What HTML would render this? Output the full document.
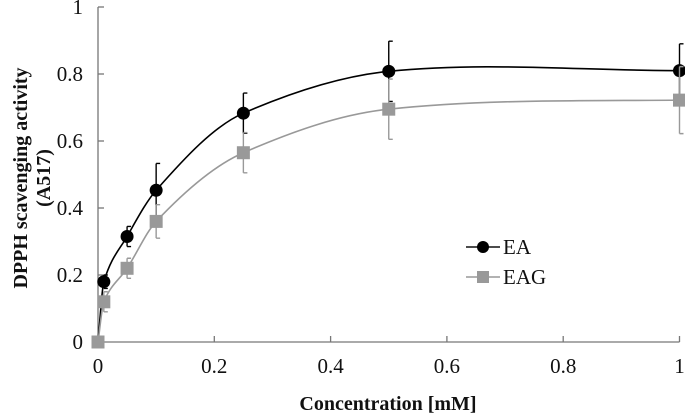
<!DOCTYPE html>
<html><head><meta charset="utf-8"><style>
body{margin:0;background:#fff}
svg text{font-family:"Liberation Serif",serif;fill:#111}
</style></head><body>
<svg id="chart" width="685" height="415" xmlns="http://www.w3.org/2000/svg">
<g id="axes"></g>
<g id="series"></g>
<text x="388" y="410" text-anchor="middle" font-size="20" font-weight="bold">Concentration [mM]</text>
<text transform="translate(27,178) rotate(-90)" text-anchor="middle" font-size="20" font-weight="bold">DPPH scavenging activity</text>
<text transform="translate(50,178) rotate(-90)" text-anchor="middle" font-size="20" font-weight="bold">(A517)</text>
<g>
<line x1="466" y1="247" x2="500" y2="247" stroke="#111" stroke-width="1.5"/>
<circle cx="483" cy="247" r="6" fill="#000"/>
<text x="503" y="254" font-size="21">EA</text>
<line x1="466" y1="277" x2="500" y2="277" stroke="#999" stroke-width="1.5"/>
<rect x="477" y="271" width="12" height="12" fill="#999"/>
<text x="503" y="284" font-size="21">EAG</text>
</g>
</svg>
<script>
const xValues=[0,0.01,0.05,0.1,0.25,0.5,1];
const eaValues=[0,0.18,0.315,0.453,0.683,0.808,0.81];
const eaErrors=[0,0.02,0.03,0.08,0.06,0.09,0.08];
const eagValues=[0,0.12,0.22,0.36,0.565,0.695,0.722];
const eagErrors=[0,0.03,0.03,0.05,0.06,0.09,0.1];
const xTicks=[0,0.2,0.4,0.6,0.8,1];
const xTickLabels=["0","0.2","0.4","0.6","0.8","1"];
const yTicks=[0,0.2,0.4,0.6,0.8,1];
const yTickLabels=["0","0.2","0.4","0.6","0.8","1"];
const NS="http://www.w3.org/2000/svg";
const X=v=>98+v*581.5, Y=v=>342-v*335;
function mk(tag,attrs,parent){const e=document.createElementNS(NS,tag);for(const k in attrs)e.setAttribute(k,attrs[k]);parent.appendChild(e);return e;}
const ax=document.getElementById('axes');
let l=mk('line',{x1:X(0),y1:Y(0),x2:X(1),y2:Y(0),stroke:'#777','stroke-width':1.3},ax);


l=mk('line',{x1:X(0),y1:Y(0),x2:X(0),y2:Y(1),stroke:'#777','stroke-width':1.3},ax);


xTicks.forEach((t,i)=>{
 const tk=mk('line',{x1:X(t),y1:Y(0),x2:X(t),y2:Y(0)-6,stroke:'#777','stroke-width':1.3},ax);
 
 
 const tx=mk('text',{x:X(t),y:373,'text-anchor':'middle','font-size':21},ax);tx.textContent=xTickLabels[i];
 
 
});
yTicks.forEach((t,i)=>{
 const tk=mk('line',{x1:X(0),y1:Y(t),x2:X(0)+6,y2:Y(t),stroke:'#777','stroke-width':1.3},ax);
 
 
 const tx=mk('text',{x:83,y:Y(t)+7,'text-anchor':'end','font-size':21},ax);tx.textContent=yTickLabels[i];
 
 
});
function smooth(xs,ys){
 const n=xs.length,d=[],m=[];
 for(let i=0;i<n-1;i++)d.push((ys[i+1]-ys[i])/(xs[i+1]-xs[i]));
 m[0]=d[0];m[n-1]=d[n-2]*0.3;
 for(let i=1;i<n-1;i++){m[i]=(d[i-1]*d[i]<=0)?0:2/(1/d[i-1]+1/d[i]);}
 m[n-2]=Math.max(m[n-2],d[n-3]*0.35);
 let p=`M${X(xs[0])},${Y(ys[0])}`;
 for(let i=0;i<n-1;i++){const h=xs[i+1]-xs[i];
  p+=` C${X(xs[i]+h/3)},${Y(ys[i]+m[i]*h/3)} ${X(xs[i+1]-h/3)},${Y(ys[i+1]-m[i+1]*h/3)} ${X(xs[i+1])},${Y(ys[i+1])}`;}
 return p;
}
const sg=document.getElementById('series');
function drawSeries(vals,errs,color,name,square){
 const g=mk('g',{},sg);
 
 
 const c=mk('path',{d:smooth(xValues,vals),fill:'none',stroke:color,'stroke-width':1.6},g);
 
 
 xValues.forEach((x,i)=>{
  if(errs[i]>0){
   const e=mk('path',{d:`M${X(x)},${Y(vals[i]-errs[i])} V${Y(vals[i]+errs[i])} M${X(x)},${Y(vals[i]+errs[i])} h4 M${X(x)},${Y(vals[i]-errs[i])} h4`,stroke:color,'stroke-width':1.4,fill:'none'},g);
   
   
  }
  let mkr;
  if(square) mkr=mk('rect',{x:X(x)-6.5,y:Y(vals[i])-6.5,width:13,height:13,fill:color},g);
  else mkr=mk('circle',{cx:X(x),cy:Y(vals[i]),r:6.5,fill:color},g);
  
  
 });
}
drawSeries(eaValues,eaErrors,'#000','ea',false);
drawSeries(eagValues,eagErrors,'#999','eag',true);
</script>
</body></html>
